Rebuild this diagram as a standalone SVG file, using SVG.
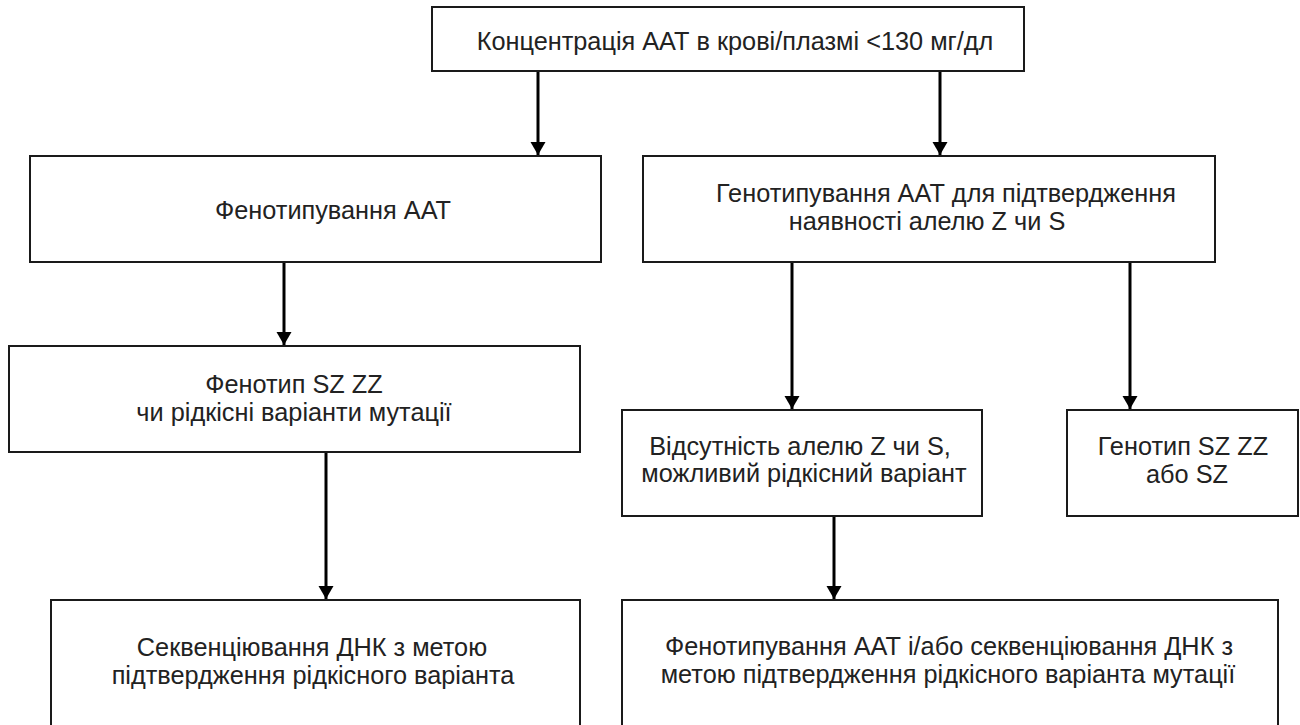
<svg xmlns="http://www.w3.org/2000/svg" width="1300" height="725" viewBox="0 0 1300 725">
<defs>
<style>
.box{fill:#fff;stroke:#1a1a1a;stroke-width:2}
.t{font-family:"Liberation Sans",Arial,sans-serif;font-size:25.3px;fill:#222;text-anchor:middle}
.c{stroke:#000;stroke-width:3;fill:none}
</style>
<marker id="ah" markerUnits="userSpaceOnUse" markerWidth="14" markerHeight="16" refX="13" refY="7.5" orient="auto" viewBox="0 0 14 15">
<path d="M0,0 L13,7.5 L0,15 Z" fill="#000"/>
</marker>
</defs>
<rect width="1300" height="725" fill="#fff"/>
<g id="connectors">
<line class="c" x1="538" y1="71" x2="538" y2="155" marker-end="url(#ah)"/>
<line class="c" x1="940" y1="71" x2="940" y2="155" marker-end="url(#ah)"/>
<line class="c" x1="284" y1="262" x2="284" y2="345" marker-end="url(#ah)"/>
<line class="c" x1="792" y1="262" x2="792" y2="409" marker-end="url(#ah)"/>
<line class="c" x1="1130" y1="262" x2="1130" y2="409" marker-end="url(#ah)"/>
<line class="c" x1="326" y1="452" x2="326" y2="599" marker-end="url(#ah)"/>
<line class="c" x1="834" y1="516" x2="834" y2="599" marker-end="url(#ah)"/>
</g>
<g id="n-top">
<rect class="box" x="432" y="7" width="592" height="64"/>
<text class="t" x="735" y="50">Концентрація ААТ в крові/плазмі &lt;130 мг/дл</text>
</g>
<g id="n-pheno">
<rect class="box" x="30" y="156" width="571" height="106"/>
<text class="t" x="333" y="219">Фенотипування ААТ</text>
</g>
<g id="n-geno">
<rect class="box" x="643" y="156" width="572" height="106"/>
<text class="t" x="946" y="202">Генотипування ААТ для підтвердження</text>
<text class="t" x="927" y="230">наявності алелю Z чи S</text>
</g>
<g id="n-phenores">
<rect class="box" x="9" y="346" width="571" height="106"/>
<text class="t" x="294" y="393">Фенотип SZ ZZ</text>
<text class="t" x="294" y="421">чи рідкісні варіанти мутації</text>
</g>
<g id="n-absent">
<rect class="box" x="622" y="410" width="360" height="106"/>
<text class="t" x="800" y="455">Відсутність алелю Z чи S,</text>
<text class="t" x="804" y="482">можливий рідкісний варіант</text>
</g>
<g id="n-genores">
<rect class="box" x="1067" y="410" width="231" height="106"/>
<text class="t" x="1183" y="455">Генотип SZ ZZ</text>
<text class="t" x="1187" y="483">або SZ</text>
</g>
<g id="n-seq">
<rect class="box" x="51" y="600" width="529" height="140"/>
<text class="t" x="312" y="656">Секвенціювання ДНК з метою</text>
<text class="t" x="313" y="684">підтвердження рідкісного варіанта</text>
</g>
<g id="n-phenoseq">
<rect class="box" x="622" y="600" width="656" height="140"/>
<text class="t" x="949" y="655">Фенотипування ААТ і/або секвенціювання ДНК з</text>
<text class="t" x="948" y="683">метою підтвердження рідкісного варіанта мутації</text>
</g>
</svg>
